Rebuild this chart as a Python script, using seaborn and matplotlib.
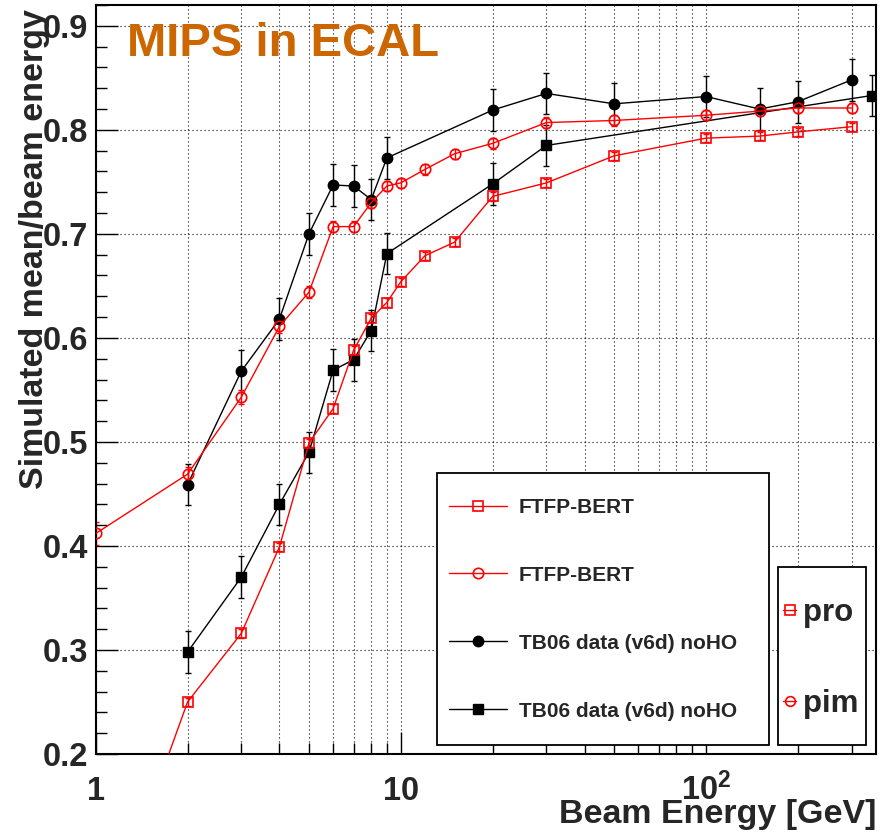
import matplotlib
matplotlib.use("Agg")
import matplotlib.pyplot as plt
import seaborn as sns
import numpy as np
from matplotlib.lines import Line2D
from matplotlib.patches import Rectangle
from matplotlib.ticker import FixedLocator, FixedFormatter, MultipleLocator, LogLocator, NullFormatter

# ---------------- data ----------------
e_data_pim = [2, 3, 4, 5, 6, 7, 8, 9, 20, 30, 50, 100, 150, 200, 300]
v_data_pim = [0.459, 0.568, 0.618, 0.700, 0.747, 0.746, 0.733, 0.773, 0.819, 0.835,
              0.825, 0.832, 0.820, 0.827, 0.848]
err_data_pim = [0.020] * len(e_data_pim)

e_data_pro = [2, 3, 4, 5, 6, 7, 8, 9, 20, 30, 350]
v_data_pro = [0.298, 0.370, 0.440, 0.490, 0.569, 0.579, 0.607, 0.681, 0.748, 0.785, 0.833]
err_data_pro = [0.020] * len(e_data_pro)

e_sim_pim = [1, 2, 3, 4, 5, 6, 7, 8, 9, 10, 12, 15, 20, 30, 50, 100, 150, 200, 300]
v_sim_pim = [0.412, 0.469, 0.543, 0.611, 0.644, 0.707, 0.707, 0.730, 0.746, 0.749,
             0.762, 0.777, 0.787, 0.807, 0.809, 0.814, 0.818, 0.821, 0.821]
err_sim_pim = [0.011, 0.007, 0.007, 0.006, 0.006, 0.005, 0.005, 0.005, 0.005, 0.005,
               0.005, 0.005, 0.005, 0.005, 0.005, 0.005, 0.005, 0.005, 0.005]

e_sim_pro = [1, 2, 3, 4, 5, 6, 7, 8, 9, 10, 12, 15, 20, 30, 50, 100, 150, 200, 300]
v_sim_pro = [0.005, 0.250, 0.316, 0.399, 0.499, 0.532, 0.588, 0.619, 0.634, 0.654,
             0.679, 0.692, 0.736, 0.749, 0.775, 0.792, 0.794, 0.798, 0.803]
err_sim_pro = [0.004] * len(e_sim_pro)

legend1_labels = ["FTFP-BERT", "FTFP-BERT", "TB06 data (v6d) noHO", "TB06 data (v6d) noHO"]
legend2_labels = ["pro", "pim"]
title_text = "MIPS in ECAL"
x_label = "Beam Energy [GeV]"
y_label = "Simulated mean/beam energy"
xtick_vals = [1, 10, 100]
xtick_labels = ["1", "10", r"$\mathbf{10^{2}}$"]
ytick_vals = [0.2, 0.3, 0.4, 0.5, 0.6, 0.7, 0.8, 0.9]
ytick_labels = ["0.2", "0.3", "0.4", "0.5", "0.6", "0.7", "0.8", "0.9"]

# ---------------- style ----------------
sns.set_theme(style="white")
plt.rcParams["font.family"] = ["Liberation Sans", "DejaVu Sans"]
plt.rcParams["font.weight"] = "bold"
plt.rcParams["mathtext.fontset"] = "custom"
plt.rcParams["mathtext.bf"] = "Liberation Sans:bold"
plt.rcParams["mathtext.rm"] = "Liberation Sans:bold"
plt.rcParams["mathtext.it"] = "Liberation Sans:bold"

RED = "#FF0000"
BLK = "#000000"
MS = 7.5

fig = plt.figure(figsize=(8.91, 8.33), dpi=100)
fig.patch.set_facecolor("white")
ax = fig.add_axes([0.1074, 0.0948, 0.8758, 0.8992])
ax.set_facecolor("white")
ax.set_xscale("log")

# error bars
ax.errorbar(e_data_pim, v_data_pim, yerr=err_data_pim, fmt="none", ecolor=BLK,
            elinewidth=1.0, capsize=2.5, capthick=1.0, zorder=2)
ax.errorbar(e_data_pro, v_data_pro, yerr=err_data_pro, fmt="none", ecolor=BLK,
            elinewidth=1.0, capsize=2.5, capthick=1.0, zorder=2)
ax.errorbar(e_sim_pim, v_sim_pim, yerr=err_sim_pim, fmt="none", ecolor=RED,
            elinewidth=1.0, capsize=2.5, capthick=1.0, zorder=2)
ax.errorbar(e_sim_pro, v_sim_pro, yerr=err_sim_pro, fmt="none", ecolor=RED,
            elinewidth=1.0, capsize=2.5, capthick=1.0, zorder=2)

# lines + markers
sns.lineplot(x=e_data_pim, y=v_data_pim, ax=ax, color=BLK, linewidth=1.0,
             marker="o", markersize=MS, markerfacecolor=BLK, markeredgecolor=BLK,
             markeredgewidth=1.0, legend=False, zorder=3)
sns.lineplot(x=e_data_pro, y=v_data_pro, ax=ax, color=BLK, linewidth=1.0,
             marker="s", markersize=MS, markerfacecolor=BLK, markeredgecolor=BLK,
             markeredgewidth=1.0, legend=False, zorder=3)
sns.lineplot(x=e_sim_pim, y=v_sim_pim, ax=ax, color=RED, linewidth=1.0,
             marker="o", markersize=MS, markerfacecolor="none", markeredgecolor=RED,
             markeredgewidth=1.2, legend=False, zorder=4)
sns.lineplot(x=e_sim_pro, y=v_sim_pro, ax=ax, color=RED, linewidth=1.0,
             marker="s", markersize=MS, markerfacecolor="none", markeredgecolor=RED,
             markeredgewidth=1.2, legend=False, zorder=4)

# axes limits / ticks
ax.set_xlim(1, 361)
ax.set_ylim(0.2, 0.92)
ax.xaxis.set_major_locator(FixedLocator(xtick_vals))
ax.xaxis.set_major_formatter(FixedFormatter(xtick_labels))
ax.xaxis.set_minor_locator(LogLocator(base=10, subs=np.arange(2, 10), numticks=20))
ax.xaxis.set_minor_formatter(NullFormatter())
ax.yaxis.set_major_locator(FixedLocator(ytick_vals))
ax.yaxis.set_major_formatter(FixedFormatter(ytick_labels))
ax.yaxis.set_minor_locator(MultipleLocator(0.02))

ax.tick_params(which="both", direction="in", top=False, right=False,
               bottom=True, left=True, color=BLK, width=1.0)
ax.tick_params(which="major", length=16)
ax.tick_params(which="minor", length=8)
ax.tick_params(axis="y", which="major", labelsize=23.5, pad=5.5)
ax.tick_params(axis="x", which="major", labelsize=23.5, pad=33)
for lab in ax.get_xticklabels():
    lab.set_fontweight("bold")
    lab.set_va("baseline")
for lab in ax.get_yticklabels():
    lab.set_fontweight("bold")

# grid
dot = (0, (1, 2.6))
ax.grid(True, which="major", axis="both", color=BLK, linestyle=dot, linewidth=0.8)
ax.grid(True, which="minor", axis="x", color=BLK, linestyle=dot, linewidth=0.8)
ax.set_axisbelow(True)

for s in ax.spines.values():
    s.set_color(BLK)
    s.set_linewidth(1.5)
    s.set_visible(True)

# labels
ax.set_xlabel(x_label, fontsize=24.5, fontweight="bold", loc="right")
ax.xaxis.set_label_coords(1.0, -0.060)
ax.set_ylabel(y_label, fontsize=24.5, fontweight="bold", loc="top")
ax.yaxis.set_label_coords(-0.0585, 0.995)
ax.text(0.040, 0.932, title_text, transform=ax.transAxes, color="#CC6600",
        fontsize=34, fontweight="bold", va="baseline", ha="left", zorder=6)

# legend 1 box + entries
ax.add_patch(Rectangle((0.437, 0.0116), 0.4255, 0.3632, transform=ax.transAxes,
                       facecolor="white", edgecolor=BLK, linewidth=1.3, zorder=5))
h1 = [
    Line2D([], [], color=RED, lw=1.0, marker="s", ms=MS, mfc="none", mec=RED, mew=1.2),
    Line2D([], [], color=RED, lw=1.0, marker="o", ms=MS, mfc="none", mec=RED, mew=1.2),
    Line2D([], [], color=BLK, lw=1.0, marker="o", ms=MS, mfc=BLK, mec=BLK),
    Line2D([], [], color=BLK, lw=1.0, marker="s", ms=MS, mfc=BLK, mec=BLK),
]
leg1 = ax.legend(h1, legend1_labels, loc="center left", bbox_to_anchor=(0.4528, 0.1933),
                 frameon=False, borderpad=0, borderaxespad=0, handlelength=2.78,
                 handletextpad=0.58, labelspacing=2.35,
                 prop={"weight": "bold", "size": 15,
                       "family": ["Liberation Sans", "DejaVu Sans"]})
leg1.set_zorder(6)
ax.add_artist(leg1)

# legend 2 box + entries
ax.add_patch(Rectangle((0.8748, 0.0116), 0.1128, 0.2377, transform=ax.transAxes,
                       facecolor="white", edgecolor=BLK, linewidth=1.3, zorder=5))
h2 = [
    Line2D([], [], color=RED, lw=1.0, marker="s", ms=7, mfc="none", mec=RED, mew=1.2),
    Line2D([], [], color=RED, lw=1.0, marker="o", ms=7, mfc="none", mec=RED, mew=1.2),
]
leg2 = ax.legend(h2, legend2_labels, loc="center left", bbox_to_anchor=(0.8812, 0.128),
                 frameon=False, borderpad=0, borderaxespad=0, handlelength=0.42,
                 handletextpad=0.2, labelspacing=1.95,
                 prop={"weight": "bold", "size": 22.5,
                       "family": ["Liberation Sans", "DejaVu Sans"]})
leg2.set_zorder(6)

fig.savefig("out.png", dpi=100, facecolor="white")
